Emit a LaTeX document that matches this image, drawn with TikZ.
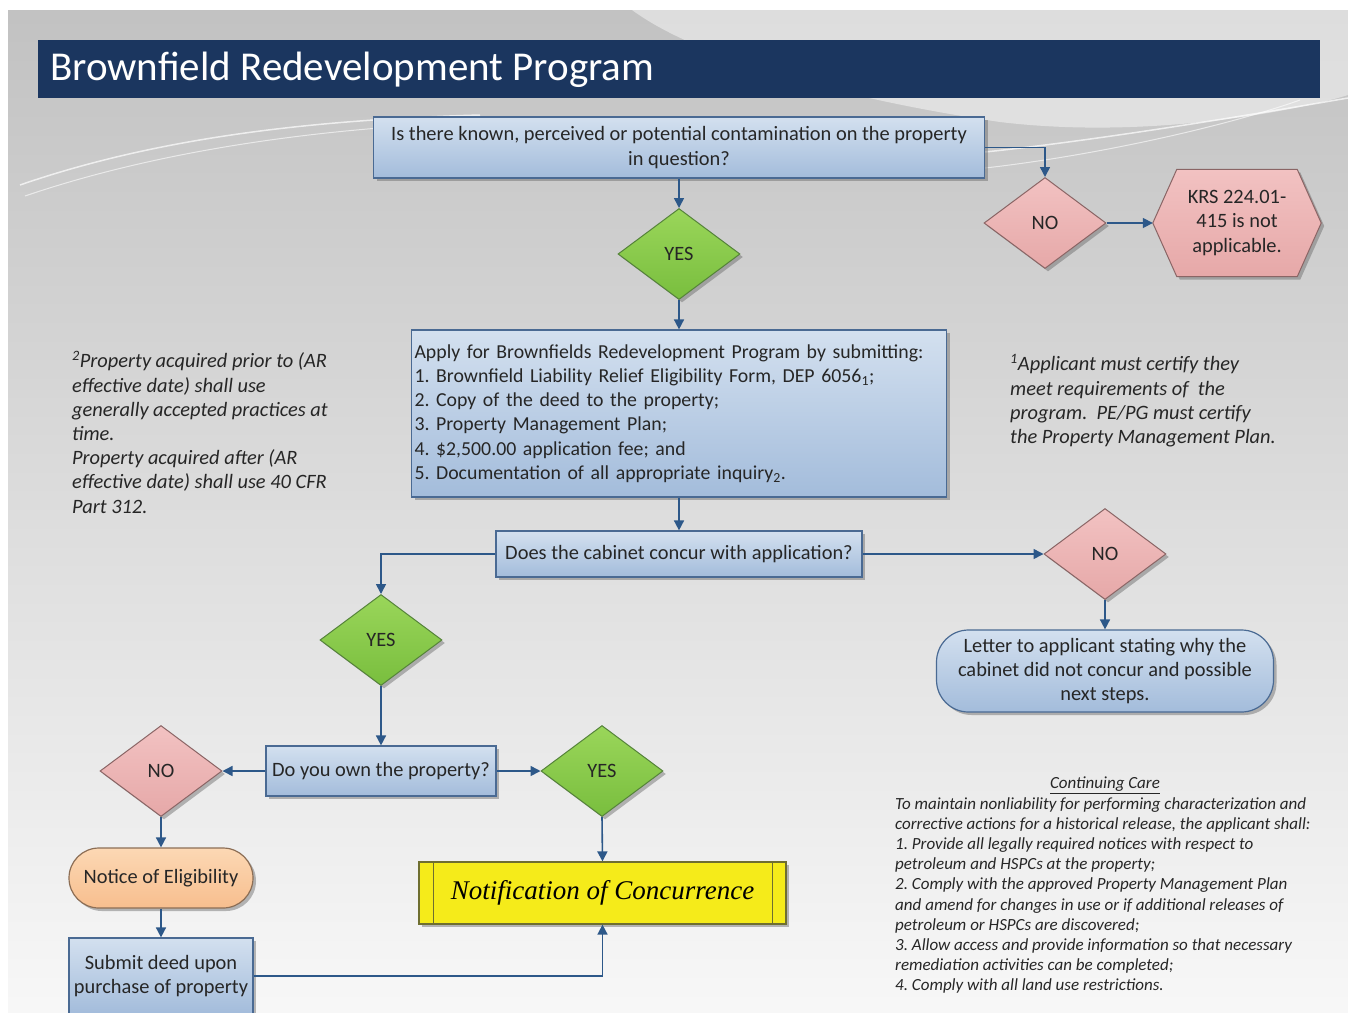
\documentclass[tikz,border=0pt]{standalone}
\usepackage{fontspec}
\setmainfont{Carlito}
\newfontfamily\calfont{Liberation Serif}
\usetikzlibrary{shapes.geometric,shadows,arrows.meta,calc}
\newcommand\fsz[2]{\fontsize{#1}{#2}\selectfont}
\frenchspacing
\definecolor{titlebar}{HTML}{1B365F}
\definecolor{bluetop}{HTML}{D3E0EF}
\definecolor{bluebot}{HTML}{A3BCDB}
\definecolor{blueedge}{HTML}{4A6A93}
\definecolor{greentop}{HTML}{9AD65A}
\definecolor{greenbot}{HTML}{79BE3E}
\definecolor{greenedge}{HTML}{55833A}
\definecolor{pinktop}{HTML}{F2C2C2}
\definecolor{pinkbot}{HTML}{E6A8A8}
\definecolor{pinkedge}{HTML}{8A6565}
\definecolor{orangetop}{HTML}{FCD8B4}
\definecolor{orangebot}{HTML}{F7BE8E}
\definecolor{orangeedge}{HTML}{8C6E55}
\definecolor{yellowfill}{HTML}{F5EB1A}
\definecolor{yellowedge}{HTML}{6E6E30}
\definecolor{arrowc}{HTML}{2D5889}
\definecolor{txt}{HTML}{262626}
\tikzset{
  shad/.style={drop shadow={shadow xshift=3pt,shadow yshift=-3pt,opacity=.45,fill=black!60}},
  bluebox/.style={rectangle,draw=blueedge,line width=1.2pt,top color=bluetop,bottom color=bluebot,shad,
    text=txt,font=\fsz{20.4}{24.2}\frenchspacing,inner sep=0pt,align=center},
  dia/.style={diamond,aspect=1.33,inner sep=0pt,minimum width=122pt,minimum height=91pt,line width=1pt,
    shad,text=txt,font=\fsz{20.4}{24}},
  yesdia/.style={dia,draw=greenedge,top color=greentop,bottom color=greenbot},
  nodia/.style={dia,draw=pinkedge,top color=pinktop,bottom color=pinkbot},
  conn/.style={draw=arrowc,line width=1.6pt,-{Triangle[length=10pt,width=10pt]}},
  note/.style={font=\fsz{20.4}{24.2}\itshape\frenchspacing,text=txt,align=left,inner sep=0pt,anchor=north west},
}
\begin{document}
\begin{tikzpicture}[x=1pt,y=-1pt]
\useasboundingbox (0,0) rectangle (1348,1012);
% background
\fill[white] (0,0) rectangle (1348,1012);
\shade[top color=black!24,middle color=black!13,bottom color=black!3] (8,10) rectangle (1348,1012);
\fill[white,opacity=.45] (632,10) .. controls (700,60) and (850,100) .. (1000,122) .. controls (1150,140) and (1300,110) .. (1348,95) -- (1348,10) -- cycle;
\draw[white,line width=1.5pt,opacity=.7] (20,185) .. controls (150,140) and (300,120) .. (480,115);
\draw[white,line width=1pt,opacity=.6] (25,196) .. controls (160,150) and (320,128) .. (480,122);
\draw[white,line width=1.5pt,opacity=.7] (985,152) .. controls (1100,140) and (1250,115) .. (1348,98);
\draw[white,line width=1pt,opacity=.6] (985,168) .. controls (1100,155) and (1230,125) .. (1300,100);
% title
\node[fill=titlebar,minimum width=1282pt,minimum height=58pt,inner sep=0pt] (title) at (679,69) {};
\node[anchor=west,text=white,font=\fsz{41}{46},inner sep=0pt] (titletext) at (50,70) {Brownfield Redevelopment Program};
% nodes
\node[bluebox,minimum width=611pt,minimum height=61pt] (q1) at (679,147.5)
  {Is there known, perceived or potential contamination on the property\\in question?};
\node[yesdia] (yes1) at (679,254) {YES};
\node[nodia] (no1) at (1045,223) {NO};
\node[minimum width=168pt,minimum height=107pt,inner sep=0pt] (hex) at (1237,223) {};
\path[draw=pinkedge,line width=1pt,top color=pinktop,bottom color=pinkbot,shad]
  (hex.west) -- ([xshift=24pt]hex.north west) -- ([xshift=-24pt]hex.north east) -- (hex.east)
  -- ([xshift=-24pt]hex.south east) -- ([xshift=24pt]hex.south west) -- cycle;
\node[align=center,text=txt,font=\fsz{20.4}{24.2},inner sep=0pt] (hext) at (hex.center) {KRS 224.01-\\415 is not\\applicable.};
\node[bluebox,font=\fsz{19.8}{24.2}\frenchspacing,minimum width=535pt,minimum height=167pt,text width=529pt,inner xsep=3pt,align=left] (apply) at (679,413.5)
  {Apply for Brownfields Redevelopment Program by submitting:\\
   1. Brownfield Liability Relief Eligibility Form, DEP 6056\textsubscript{1};\\
   2. Copy of the deed to the property;\\
   3. Property Management Plan;\\
   4. \$2,500.00 application fee; and\\
   5. Documentation of all appropriate inquiry\textsubscript{2}.};
\node[bluebox,minimum width=366pt,minimum height=46pt] (concur) at (679,554) {Does the cabinet concur with application?};
\node[nodia] (no2) at (1105,554) {NO};
\node[rectangle,rounded corners=32pt,draw=blueedge,line width=1.2pt,top color=bluetop,bottom color=bluebot,shad,
  text=txt,font=\fsz{20.4}{24.2},align=center,minimum width=337pt,minimum height=82pt,inner sep=0pt] (letter) at (1105,671)
  {Letter to applicant stating why the\\cabinet did not concur and possible\\next steps.};
\node[yesdia] (yes2) at (381,640) {YES};
\node[bluebox,minimum width=230pt,minimum height=50pt] (own) at (381,771) {Do you own the property?};
\node[nodia] (no3) at (161,771) {NO};
\node[yesdia] (yes3) at (602,771) {YES};
\node[rectangle,rounded corners=30pt,draw=orangeedge,line width=1.2pt,top color=orangetop,bottom color=orangebot,shad,
  text=txt,font=\fsz{20.4}{24.2},minimum width=184pt,minimum height=60pt,inner sep=0pt] (notice) at (161,878) {Notice of Eligibility};
\node[bluebox,minimum width=184pt,minimum height=76pt] (submit) at (161,976) {Submit deed upon\\purchase of property};
\node[rectangle,draw=yellowedge,line width=1.2pt,fill=yellowfill,shad,minimum width=367pt,minimum height=62pt,
  inner sep=0pt,font=\calfont\itshape\fsz{27}{30},text=black] (notif) at (602.5,893) {Notification of Concurrence};
\draw[yellowedge,line width=1pt] ([xshift=15pt]notif.north west) -- ([xshift=15pt]notif.south west);
\draw[yellowedge,line width=1pt] ([xshift=-14pt]notif.north east) -- ([xshift=-14pt]notif.south east);
% notes
\node[note] (note2) at (72,351) {\textsuperscript{2}Property acquired prior to (AR\\effective date) shall use\\generally accepted practices at\\time.\\Property acquired after (AR\\effective date) shall use 40 CFR\\Part 312.};
\node[note] (note1) at (1010,354) {\textsuperscript{1}Applicant must certify they\\meet requirements of\ \ the\\program.\ \ PE/PG must certify\\the Property Management Plan.};
\node[font=\fsz{17}{20.2}\itshape,text=txt,inner sep=0pt] (cctitle) at (1105,785) {\underline{Continuing Care}};
\node[note,font=\fsz{17}{20.2}\itshape\frenchspacing] (ccbody) at (895,797) {To maintain nonliability for performing characterization and\\corrective actions for a historical release, the applicant shall:\\1. Provide all legally required notices with respect to\\petroleum and HSPCs at the property;\\2. Comply with the approved Property Management Plan\\and amend for changes in use or if additional releases of\\petroleum or HSPCs are discovered;\\3. Allow access and provide information so that necessary\\remediation activities can be completed;\\4. Comply with all land use restrictions.};
% connectors
\draw[conn] (q1.south) -- (yes1.north);
\draw[conn] (q1.east) -| (no1.north);
\draw[conn] (no1.east) -- (hex.west);
\draw[conn] (yes1.south) -- (apply.north);
\draw[conn] (apply.south) -- (concur.north);
\draw[conn] (concur.east) -- (no2.west);
\draw[conn] (no2.south) -- (letter.north);
\draw[conn] (concur.west) -| (yes2.north);
\draw[conn] (yes2.south) -- (own.north);
\draw[conn] (own.west) -- (no3.east);
\draw[conn] (own.east) -- (yes3.west);
\draw[conn] (no3.south) -- (notice.north);
\draw[conn] (notice.south) -- (submit.north);
\draw[conn] (yes3.south) -- (notif.north);
\draw[conn] (submit.east) -| (notif.south);
\end{tikzpicture}
\end{document}
